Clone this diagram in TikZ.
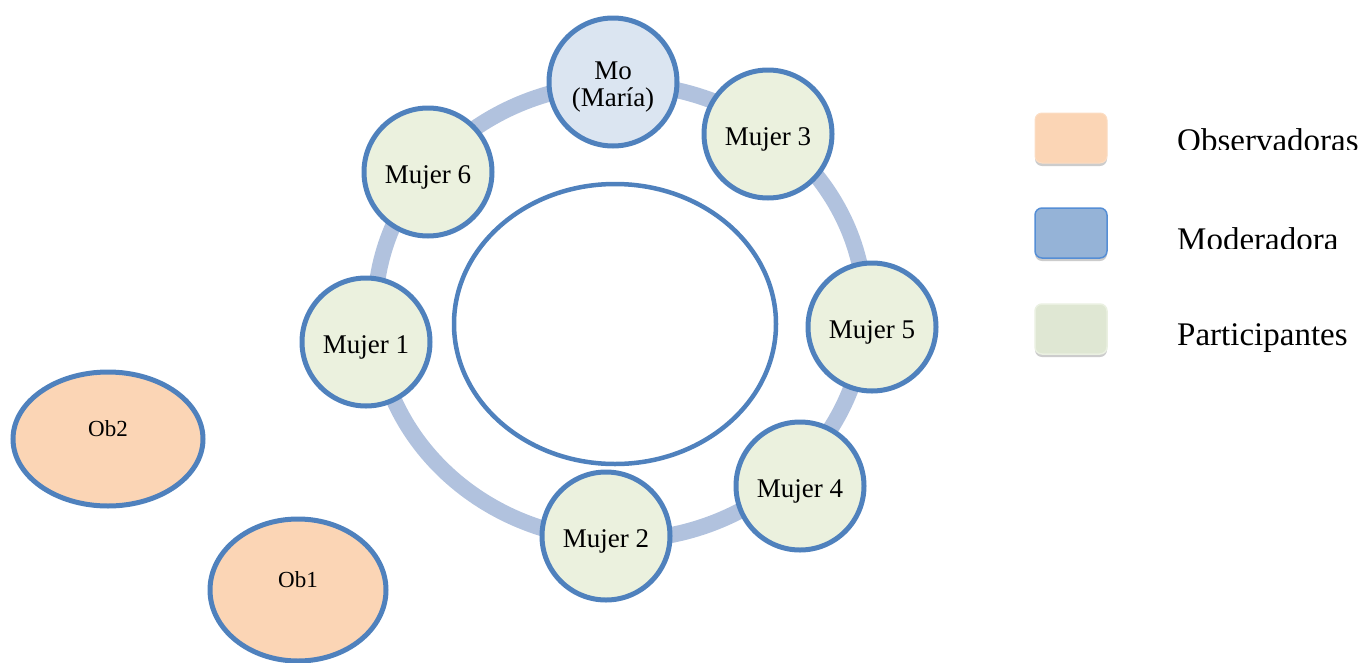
\documentclass[tikz,border=0pt]{standalone}
\usepackage{fontspec}
\setmainfont{Liberation Serif}
\usetikzlibrary{shapes.geometric,shadows}
\definecolor{nodeblue}{HTML}{4F81BD}
\definecolor{partfill}{HTML}{EBF1DE}
\definecolor{modfill}{HTML}{DBE5F1}
\definecolor{obsfill}{HTML}{FBD5B5}
\definecolor{ringcol}{HTML}{B1C2DE}
\definecolor{legmod}{HTML}{95B3D7}
\definecolor{legmodline}{HTML}{558ED5}
\definecolor{legpart}{HTML}{DFE7D3}
\definecolor{legpartline}{HTML}{EAF0E1}
\definecolor{legobsline}{HTML}{FCDDC3}
\begin{document}
\begin{tikzpicture}[x=1pt,y=-1pt,
  person/.style={circle,draw=nodeblue,line width=5pt,minimum size=128pt,inner sep=0pt,
    fill=partfill,align=center,font=\fontsize{27}{27}\selectfont,
    text height=28pt,text depth=6pt},
  moder/.style={person,fill=modfill,text height=54pt,text depth=6pt},
  obs/.style={ellipse,draw=nodeblue,line width=5pt,fill=obsfill,inner sep=0pt,
    font=\fontsize{23}{26}\selectfont,text height=16pt,text depth=22pt},
  tablebox/.style={ellipse,draw=nodeblue,line width=4.5pt,fill=white,inner sep=0pt},
  legbox/.style={rounded corners=7pt,minimum width=72pt,minimum height=50pt,inner sep=0pt,
    drop shadow={shadow xshift=0pt,shadow yshift=-3pt,fill=black!25,opacity=0.8}},
  legtext/.style={anchor=base west,inner sep=0pt,font=\fontsize{33}{36}\selectfont}]
\useasboundingbox (0,0) rectangle (1369,662);
\clip (0,0) rectangle (1369,662);
% ring band
\draw[ringcol,line width=16pt] (620,312) ellipse [x radius=245, y radius=228];
% table
\node[tablebox,minimum width=322pt,minimum height=280pt] (table) at (615,324) {};
% people
\node[moder] (mo) at (613,82) {Mo\\(María)};
\node[person] (m3) at (768,134) {Mujer 3};
\node[person] (m6) at (428,172) {Mujer 6};
\node[person] (m1) at (366,342) {Mujer 1};
\node[person] (m5) at (872,327) {Mujer 5};
\node[person] (m4) at (800,486) {Mujer 4};
\node[person] (m2) at (606,536) {Mujer 2};
% observers
\node[obs,minimum width=190pt,minimum height=134pt] (ob2) at (108,439) {Ob2};
\node[obs,minimum width=176pt,minimum height=142pt] (ob1) at (298,590) {Ob1};
% legend
\node[legbox,fill=obsfill,draw=legobsline,line width=1pt] (lb1) at (1071,138) {};
\node[legbox,fill=legmod,draw=legmodline,line width=1.5pt] (lb2) at (1071,233) {};
\node[legbox,fill=legpart,draw=legpartline,line width=1.5pt] (lb3) at (1071,329) {};
\begin{scope}
  \clip (1150,100) rectangle (1369,149);
  \node[legtext] (t1) at (1177,151) {Observadoras};
\end{scope}
\begin{scope}
  \clip (1150,200) rectangle (1369,248);
  \node[legtext] (t2) at (1177,250) {Moderadora};
\end{scope}
\node[legtext] (t3) at (1177,345) {Participantes};
\end{tikzpicture}
\end{document}
